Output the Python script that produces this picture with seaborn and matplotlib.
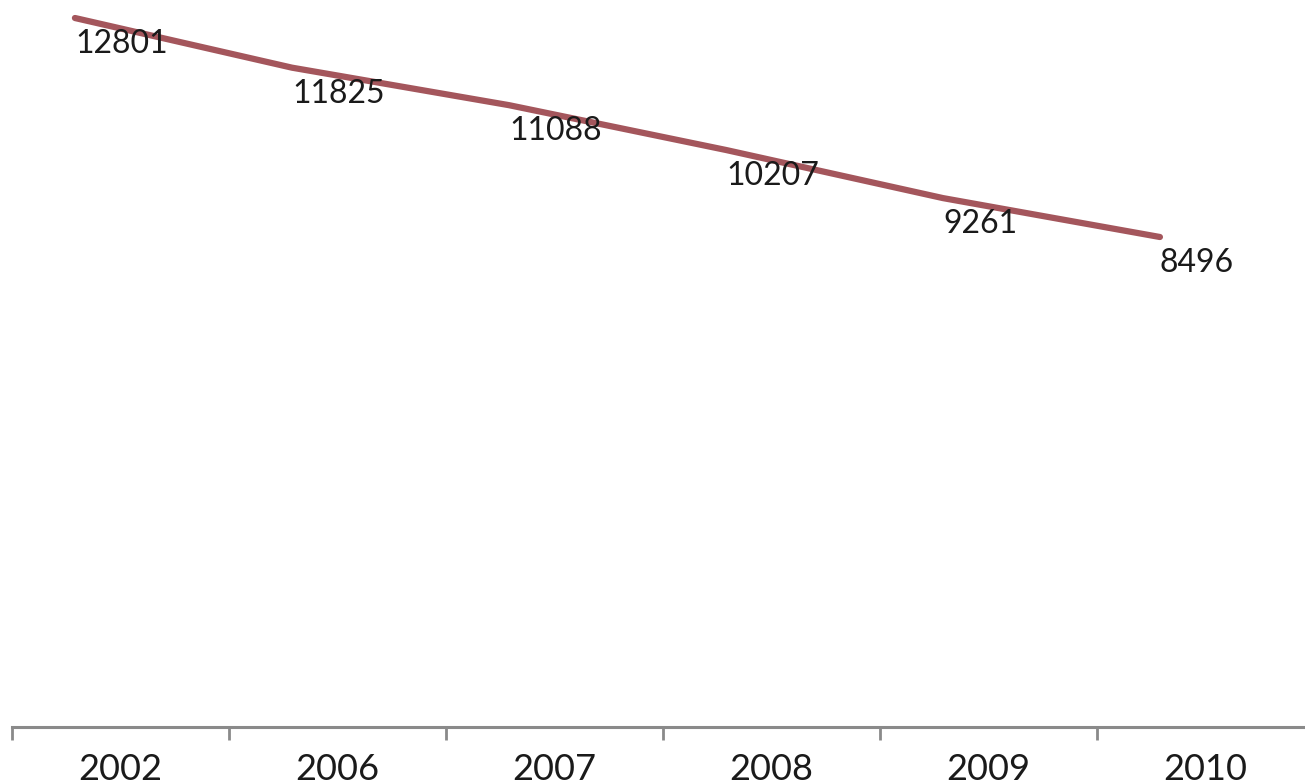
import matplotlib
matplotlib.use('Agg')
import matplotlib.pyplot as plt
import seaborn as sns
import pandas as pd
import numpy as np

years = ['2002', '2006', '2007', '2008', '2009', '2010']
values = [12801, 11825, 11088, 10207, 9261, 8496]

sns.set_style('white')
plt.rcParams['font.family'] = ['Lato', 'DejaVu Sans']

W, H = 1305, 784
fig = plt.figure(figsize=(W / 100, H / 100), dpi=100)
fig.patch.set_facecolor('white')

ax = fig.add_axes([12 / W, (H - 727) / H, 1302 / W, 727 / H])

pos = np.arange(len(years))
LINE_SHIFT = -0.21
df = pd.DataFrame({'pos': pos + LINE_SHIFT, 'value': values})
sns.lineplot(data=df, x='pos', y='value', ax=ax, color='#A4565C', linewidth=4.5)

for x, v in zip(df['pos'], df['value']):
    ax.annotate(str(v), (x, v), xytext=(0, -26), textcoords='offset pixels',
                ha='left', va='center', fontsize=23, color='#1a1a1a')

ax.set_xlim(-0.5, 5.5)
ax.set_ylim(-1136, 13155)

for s in ['left', 'top', 'right']:
    ax.spines[s].set_visible(False)
ax.spines['bottom'].set_color('#8a8a8a')
ax.spines['bottom'].set_linewidth(2.2)

ax.set_yticks([])
ax.set_xticks(pos)
ax.set_xticklabels(years, fontsize=26, color='#1a1a1a')
ax.set_xticks(np.arange(len(years) + 1) - 0.5, minor=True)
ax.tick_params(axis='x', which='major', bottom=True, length=0, pad=19)
ax.tick_params(axis='x', which='minor', bottom=True, length=9, width=2,
               color='#8a8a8a', direction='out')
ax.set_xlabel('')
ax.set_ylabel('')

fig.savefig('out.png', dpi=100)
